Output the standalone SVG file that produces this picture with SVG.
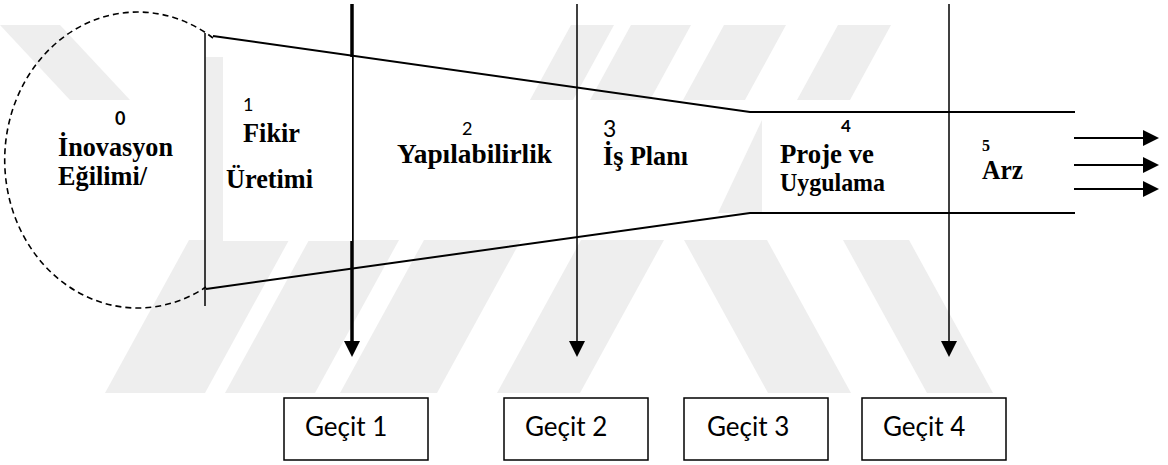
<svg xmlns="http://www.w3.org/2000/svg" width="1168" height="465" viewBox="0 0 1168 465">
  <style>
    .ln { fill: none; stroke: #000; stroke-width: 2; }
    .thin { fill: none; stroke: #000; stroke-width: 1.5; }
    .dash { fill: none; stroke: #000; stroke-width: 1.6; stroke-dasharray: 6 4; }
    .stage { font-family: "Liberation Serif", "Times New Roman", serif; font-weight: bold; fill: #000; }
    .num { font-family: Lato, "Liberation Sans", sans-serif; fill: #000; }
    .gate rect { fill: #fff; stroke: #000; stroke-width: 1.5; }
    .gate text { font-family: Lato, "Liberation Sans", sans-serif; font-size: 26px; fill: #000; }
    .pad { fill: #fff; }
    .wm { fill: #eeeeee; }
  </style>
  <defs>
    <marker id="tip" markerUnits="userSpaceOnUse" markerWidth="16" markerHeight="16" refX="0" refY="8" orient="auto">
      <path d="M0,0 L16,8 L0,16 Z" fill="#000"/>
    </marker>
  </defs>

  <rect width="1168" height="465" fill="#fff"/>

  <!-- faint background emblem -->
  <g id="emblem">
    <polygon class="wm" points="0,25 60,25 130,100 70,100"/>
    <polygon class="wm" points="571,25 614,25 573,100 530,100"/>
    <polygon class="wm" points="631,25 691,25 650,100 590,100"/>
    <polygon class="wm" points="724,25 786,25 745,100 683,100"/>
    <polygon class="wm" points="838,25 891,25 850,100 797,100"/>
    <polygon class="wm" points="206,57 223,57 223,241 206,241"/>
    <polygon class="wm" points="762,120 762,213 718,213"/>
    <polygon class="wm" points="189,240 289,240 205,393 105,393"/>
    <polygon class="wm" points="309,240 399,240 315,393 225,393"/>
    <polygon class="wm" points="424,240 521,240 437,393 340,393"/>
    <polygon class="wm" points="581,240 664,240 580,393 497,393"/>
    <polygon class="wm" points="684,240 767,240 851,393 768,393"/>
    <polygon class="wm" points="843,240 909,240 993,393 927,393"/>
  </g>

  <!-- gate arrows and funnel outline -->
  <g id="connectors">
    <line x1="352" y1="4" x2="352" y2="341" stroke="#000" stroke-width="3.5" marker-end="url(#tip)"/>
    <line class="thin" x1="577" y1="4" x2="577" y2="341" marker-end="url(#tip)"/>
    <line class="thin" x1="949" y1="4" x2="949" y2="341" marker-end="url(#tip)"/>

    <path class="dash" d="M213,38 A133,148 0 1 0 206,287"/>
    <line class="thin" x1="205" y1="33" x2="205" y2="306"/>
    <polyline class="ln" points="213,36 750,112 1075,112"/>
    <polyline class="ln" points="206,289 750,213 1075,213"/>

    <line class="ln" x1="1074" y1="138" x2="1143" y2="138" marker-end="url(#tip)"/>
    <line class="ln" x1="1074" y1="165" x2="1143" y2="165" marker-end="url(#tip)"/>
    <line class="ln" x1="1074" y1="189" x2="1143" y2="189" marker-end="url(#tip)"/>
  </g>

  <!-- stage 0 -->
  <g id="stage0">
    <text class="num" x="115" y="125" style="font-size:18px;font-weight:bold">0</text>
    <text class="stage" x="58" y="156" style="font-size:27px" textLength="115" lengthAdjust="spacingAndGlyphs">İnovasyon</text>
    <text class="stage" x="58" y="185" style="font-size:27px" textLength="89" lengthAdjust="spacingAndGlyphs">Eğilimi/</text>
  </g>

  <!-- stage 1 -->
  <g id="stage1">
    <rect class="pad" x="223" y="57" width="129" height="184"/>
    <text class="num" x="243" y="111" style="font-size:18px">1</text>
    <text class="stage" x="243" y="142" style="font-size:27px" textLength="57" lengthAdjust="spacingAndGlyphs">Fikir</text>
    <text class="stage" x="226" y="188" style="font-size:27px" textLength="87" lengthAdjust="spacingAndGlyphs">Üretimi</text>
  </g>

  <!-- stage 2 -->
  <g id="stage2">
    <text class="num" x="462" y="135" style="font-size:18px">2</text>
    <text class="stage" x="397" y="163" style="font-size:27px" textLength="155" lengthAdjust="spacingAndGlyphs">Yapılabilirlik</text>
  </g>

  <!-- stage 3 -->
  <g id="stage3">
    <text class="num" x="603" y="137" style="font-size:23px">3</text>
    <text class="stage" x="603" y="165" style="font-size:27px" textLength="85" lengthAdjust="spacingAndGlyphs">İş Planı</text>
  </g>

  <!-- stage 4 -->
  <g id="stage4">
    <rect class="pad" x="762" y="113" width="181" height="99"/>
    <text class="num" x="841" y="132" style="font-size:17px;font-weight:bold">4</text>
    <text class="stage" x="780" y="163" style="font-size:27px" textLength="94" lengthAdjust="spacingAndGlyphs">Proje ve</text>
    <text class="stage" x="780" y="191" style="font-size:25px" textLength="105" lengthAdjust="spacingAndGlyphs">Uygulama</text>
  </g>

  <!-- stage 5 -->
  <g id="stage5">
    <text class="stage" x="982" y="151" style="font-size:16px">5</text>
    <text class="stage" x="982" y="179" style="font-size:27px" textLength="41" lengthAdjust="spacingAndGlyphs">Arz</text>
  </g>

  <!-- gates -->
  <g id="gate1" class="gate">
    <rect x="284" y="398" width="144" height="62"/>
    <text x="305" y="436">Geçit 1</text>
  </g>
  <g id="gate2" class="gate">
    <rect x="504" y="398" width="144" height="62"/>
    <text x="525" y="436">Geçit 2</text>
  </g>
  <g id="gate3" class="gate">
    <rect x="684" y="398" width="144" height="62"/>
    <text x="707" y="436">Geçit 3</text>
  </g>
  <g id="gate4" class="gate">
    <rect x="862" y="398" width="144" height="62"/>
    <text x="883" y="436">Geçit 4</text>
  </g>
</svg>
